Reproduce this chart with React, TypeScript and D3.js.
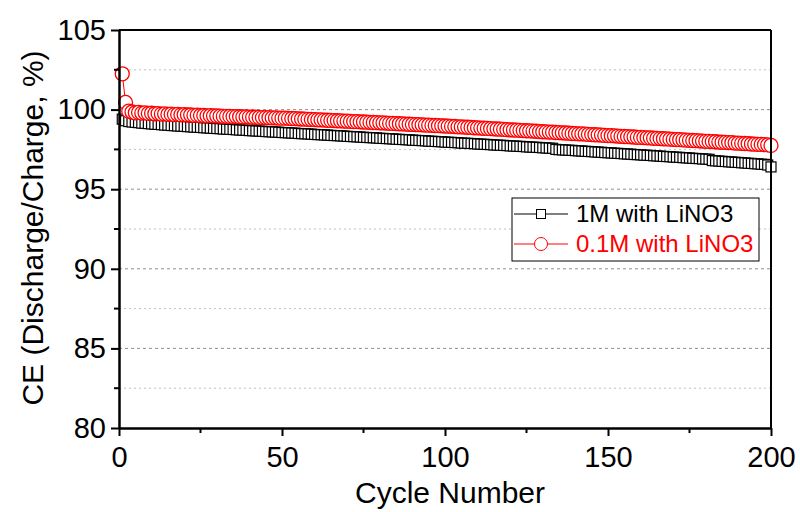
import React, { useEffect, useRef } from 'react';
import * as d3 from 'd3';

const seriesNames = ['1M with LiNO3', '0.1M with LiNO3'];
const seriesColors = ['#000000', '#ff0000'];

// CE (%) for cycles 1..200
const ce1M = [
  99.40, 99.30, 99.25, 99.22, 99.20, 99.18, 99.15, 99.14, 99.12, 99.10,
  99.08, 99.07, 99.05, 99.03, 99.02, 99.00, 98.99, 98.97, 98.96, 98.95,
  98.93, 98.92, 98.90, 98.89, 98.88, 98.86, 98.85, 98.84, 98.82, 98.81,
  98.80, 98.78, 98.77, 98.76, 98.75, 98.73, 98.72, 98.71, 98.70, 98.68,
  98.67, 98.66, 98.65, 98.64, 98.62, 98.61, 98.60, 98.59, 98.58, 98.56,
  98.55, 98.54, 98.53, 98.52, 98.50, 98.49, 98.48, 98.47, 98.46, 98.44,
  98.43, 98.42, 98.41, 98.40, 98.38, 98.37, 98.36, 98.35, 98.34, 98.32,
  98.31, 98.30, 98.29, 98.28, 98.26, 98.25, 98.24, 98.23, 98.22, 98.20,
  98.19, 98.18, 98.17, 98.16, 98.14, 98.13, 98.12, 98.11, 98.10, 98.08,
  98.07, 98.06, 98.05, 98.04, 98.02, 98.01, 98.00, 97.99, 97.98, 97.96,
  97.95, 97.94, 97.93, 97.92, 97.90, 97.89, 97.88, 97.87, 97.86, 97.84,
  97.83, 97.82, 97.81, 97.80, 97.78, 97.77, 97.76, 97.75, 97.74, 97.72,
  97.71, 97.70, 97.69, 97.68, 97.66, 97.65, 97.64, 97.63, 97.62, 97.60,
  97.59, 97.58, 97.57, 97.50, 97.48, 97.47, 97.46, 97.45, 97.44, 97.42,
  97.41, 97.40, 97.38, 97.37, 97.36, 97.34, 97.33, 97.32, 97.30, 97.29,
  97.28, 97.26, 97.25, 97.24, 97.22, 97.21, 97.20, 97.18, 97.17, 97.16,
  97.14, 97.13, 97.12, 97.10, 97.09, 97.08, 97.06, 97.05, 97.04, 97.02,
  97.01, 97.00, 96.98, 96.97, 96.96, 96.94, 96.93, 96.92, 96.90, 96.89,
  96.88, 96.80, 96.78, 96.77, 96.75, 96.74, 96.72, 96.71, 96.69, 96.68,
  96.66, 96.65, 96.63, 96.62, 96.60, 96.59, 96.57, 96.56, 96.52, 96.40,
];

const ce01M = [
  102.25, 100.45, 99.90, 99.85, 99.80, 99.82, 99.78, 99.80, 99.76, 99.77,
  99.74, 99.75, 99.72, 99.73, 99.70, 99.71, 99.69, 99.70, 99.67, 99.68,
  99.66, 99.66, 99.64, 99.65, 99.63, 99.63, 99.61, 99.62, 99.60, 99.60,
  99.59, 99.58, 99.58, 99.57, 99.56, 99.56, 99.55, 99.54, 99.54, 99.53,
  99.52, 99.52, 99.51, 99.50, 99.50, 99.49, 99.48, 99.48, 99.47, 99.46,
  99.46, 99.45, 99.44, 99.43, 99.42, 99.41, 99.40, 99.39, 99.38, 99.37,
  99.36, 99.35, 99.34, 99.33, 99.32, 99.31, 99.30, 99.29, 99.28, 99.27,
  99.26, 99.25, 99.24, 99.23, 99.22, 99.21, 99.20, 99.19, 99.18, 99.17,
  99.16, 99.15, 99.14, 99.13, 99.12, 99.11, 99.10, 99.09, 99.08, 99.07,
  99.06, 99.05, 99.04, 99.03, 99.02, 99.01, 99.00, 98.99, 98.98, 98.97,
  98.96, 98.95, 98.94, 98.92, 98.91, 98.90, 98.89, 98.88, 98.86, 98.85,
  98.84, 98.83, 98.82, 98.80, 98.79, 98.78, 98.77, 98.76, 98.74, 98.73,
  98.72, 98.71, 98.70, 98.68, 98.67, 98.66, 98.65, 98.64, 98.62, 98.61,
  98.60, 98.59, 98.58, 98.56, 98.55, 98.54, 98.53, 98.52, 98.50, 98.49,
  98.48, 98.47, 98.46, 98.44, 98.43, 98.42, 98.41, 98.40, 98.38, 98.37,
  98.36, 98.35, 98.34, 98.32, 98.31, 98.30, 98.29, 98.28, 98.26, 98.25,
  98.24, 98.23, 98.22, 98.20, 98.19, 98.18, 98.17, 98.16, 98.14, 98.13,
  98.12, 98.11, 98.10, 98.08, 98.07, 98.06, 98.05, 98.04, 98.02, 98.01,
  98.00, 97.99, 97.98, 97.96, 97.95, 97.94, 97.93, 97.92, 97.90, 97.89,
  97.88, 97.87, 97.86, 97.84, 97.83, 97.82, 97.81, 97.80, 97.78, 97.75,
];

const xTicks = [0, 50, 100, 150, 200];
const xMinor = [25, 75, 125, 175];
const yTicks = [80, 85, 90, 95, 100, 105];
const yMinor = [82.5, 87.5, 92.5, 97.5, 102.5];

const width = 800;
const height = 512;
const margin = { top: 30, right: 29, bottom: 84, left: 119 };
const font = 'Arial, "Liberation Sans", sans-serif';

export default function App() {
  const ref = useRef<SVGSVGElement>(null);

  useEffect(() => {
    const svg = d3.select(ref.current);
    svg.selectAll('*').remove();

    const w = width - margin.left - margin.right;
    const h = height - margin.top - margin.bottom;

    const x = d3.scaleLinear().domain([0, 200]).range([0, w]);
    const y = d3.scaleLinear().domain([80, 105]).range([h, 0]);

    const g = svg.append('g').attr('transform', `translate(${margin.left},${margin.top})`);

    // grid
    g.selectAll('.gmin')
      .data(yMinor)
      .join('line')
      .attr('x1', 0).attr('x2', w)
      .attr('y1', d => y(d)).attr('y2', d => y(d))
      .attr('stroke', '#c0c0c0').attr('stroke-width', 1).attr('stroke-dasharray', '2,3');
    g.selectAll('.gmaj')
      .data(yTicks.filter(d => d > 80 && d < 105))
      .join('line')
      .attr('x1', 0).attr('x2', w)
      .attr('y1', d => y(d)).attr('y2', d => y(d))
      .attr('stroke', '#909090').attr('stroke-width', 1).attr('stroke-dasharray', '3,3');

    const cycles = d3.range(1, 201);
    const series = [ce1M, ce01M];

    series.forEach((vals, si) => {
      const pts = vals.map((v, i) => [cycles[i], v] as [number, number]);
      const line = d3.line<[number, number]>().x(d => x(d[0])).y(d => y(d[1]));
      g.append('path')
        .datum(pts)
        .attr('d', line)
        .attr('fill', 'none')
        .attr('stroke', seriesColors[si])
        .attr('stroke-width', 1);
      const mg = g.append('g');
      pts.forEach(p => {
        if (si === 0) {
          mg.append('rect')
            .attr('x', x(p[0]) - 5).attr('y', y(p[1]) - 5)
            .attr('width', 10).attr('height', 10)
            .attr('fill', 'white').attr('stroke', '#000').attr('stroke-width', 1.2);
        } else {
          mg.append('circle')
            .attr('cx', x(p[0])).attr('cy', y(p[1])).attr('r', 7)
            .attr('fill', 'white').attr('stroke', '#ff0000').attr('stroke-width', 1.3);
        }
      });
    });

    // frame
    g.append('line').attr('x1', 0).attr('x2', w).attr('y1', 0).attr('y2', 0)
      .attr('stroke', '#000').attr('stroke-width', 2);
    g.append('line').attr('x1', w).attr('x2', w).attr('y1', 0).attr('y2', h)
      .attr('stroke', '#000').attr('stroke-width', 2);

    // axes
    const xAxis = g.append('g').attr('transform', `translate(0,${h})`)
      .call(d3.axisBottom(x).tickValues(xTicks).tickSize(8).tickSizeOuter(0));
    xAxis.append('g').selectAll('line').data(xMinor).join('line')
      .attr('x1', d => x(d)).attr('x2', d => x(d)).attr('y1', 0).attr('y2', 5)
      .attr('stroke', '#000').attr('stroke-width', 2);
    const yAxis = g.append('g')
      .call(d3.axisLeft(y).tickValues(yTicks).tickSize(8).tickPadding(5).tickSizeOuter(0));
    yAxis.append('g').selectAll('line').data(yMinor).join('line')
      .attr('x1', 0).attr('x2', -5).attr('y1', d => y(d)).attr('y2', d => y(d))
      .attr('stroke', '#000').attr('stroke-width', 2);

    [xAxis, yAxis].forEach(a => {
      a.select('.domain').attr('stroke-width', 2.5);
      a.selectAll('.tick line').attr('stroke-width', 2);
      a.selectAll('.tick text')
        .attr('font-family', font).attr('font-size', 29).attr('fill', '#000');
    });
    xAxis.selectAll('.tick text').attr('y', 39).attr('dy', 0);

    // axis titles
    svg.append('text')
      .attr('x', 450).attr('y', 503)
      .attr('text-anchor', 'middle')
      .attr('font-family', font).attr('font-size', 30)
      .text('Cycle Number');
    svg.append('text')
      .attr('transform', `translate(43,228) rotate(-90)`)
      .attr('text-anchor', 'middle')
      .attr('font-family', font).attr('font-size', 30)
      .text('CE (Discharge/Charge, %)');

    // legend
    const lg = svg.append('g').attr('transform', 'translate(512,198)');
    lg.append('rect').attr('width', 247).attr('height', 63)
      .attr('fill', 'white').attr('stroke', '#000').attr('stroke-width', 1);
    seriesNames.forEach((name, i) => {
      const cy = 16 + i * 30;
      lg.append('line').attr('x1', 2).attr('x2', 56).attr('y1', cy).attr('y2', cy)
        .attr('stroke', seriesColors[i]).attr('stroke-width', 1);
      if (i === 0) {
        lg.append('rect').attr('x', 29 - 4.5).attr('y', cy - 4.5).attr('width', 9).attr('height', 9)
          .attr('fill', 'white').attr('stroke', '#000');
      } else {
        lg.append('circle').attr('cx', 29).attr('cy', cy).attr('r', 6.5)
          .attr('fill', 'white').attr('stroke', '#ff0000');
      }
      lg.append('text').attr('x', 64).attr('y', cy).attr('dy', '0.35em')
        .attr('font-family', font).attr('font-size', 24)
        .attr('fill', seriesColors[i])
        .text(name);
    });
  }, []);

  return (
    <svg
      ref={ref}
      width={width}
      height={height}
      style={{ display: 'block', position: 'absolute', left: 0, top: 0 }}
    />
  );
}
